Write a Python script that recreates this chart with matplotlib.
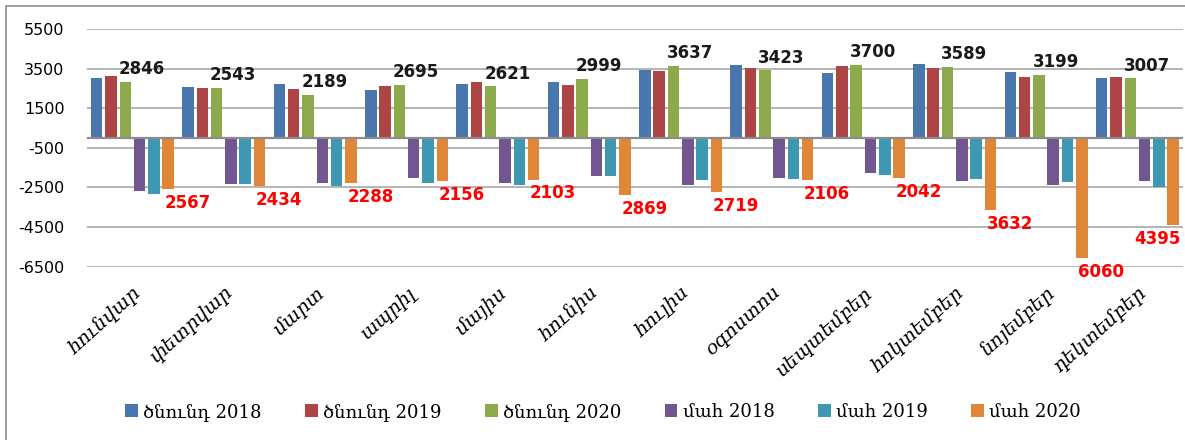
import numpy as np
import matplotlib.pyplot as plt
from matplotlib.patches import Rectangle

# Armenian month names and series names
months = ['հունվար', 'փետրվար', 'մարտ', 'ապրիլ', 'մայիս', 'հունիս',
          'հուլիս', 'օգոստոս', 'սեպտեմբեր', 'հոկտեմբեր', 'նոյեմբեր', 'դեկտեմբեր']
names = ['ծնունդ 2018', 'ծնունդ 2019', 'ծնունդ 2020', 'մահ 2018', 'մահ 2019', 'մահ 2020']

# births (2020 from the labels)
birth2018 = [3035, 2557, 2745, 2404, 2745, 2847, 3444, 3683, 3291, 3734, 3342, 3035]
birth2019 = [3137, 2506, 2455, 2609, 2813, 2694, 3393, 3512, 3632, 3512, 3086, 3086]
birth2020 = [2846, 2543, 2189, 2695, 2621, 2999, 3637, 3423, 3700, 3589, 3199, 3007]
# deaths, drawn below zero
death2018 = [2694, 2302, 2250, 2012, 2250, 1944, 2387, 2012, 1773, 2165, 2353, 2165]
death2019 = [2847, 2302, 2404, 2250, 2353, 1944, 2114, 2063, 1858, 2063, 2216, 2455]
death2020 = [2567, 2434, 2288, 2156, 2103, 2869, 2719, 2106, 2042, 3632, 6060, 4395]

yticks = [5500, 3500, 1500, -500, -2500, -4500, -6500]

colors = ['#4A76AE', '#AC4543', '#8CAA4C', '#715692', '#3E98B2', '#E08638']
series = [np.array(birth2018), np.array(birth2019), np.array(birth2020),
          -np.array(death2018), -np.array(death2019), -np.array(death2020)]

fig = plt.figure(figsize=(11.85, 4.4), dpi=100)
ax = fig.add_axes([0.0732, 0.3939, 0.9252, 0.5401])

x = np.arange(len(months))
pitch = 0.1565
bw = 0.126
for i, vals in enumerate(series):
    ax.bar(x + (i - 2.5) * pitch, vals, width=bw, color=colors[i], label=names[i],
           zorder=3)

# labels on 2020 series
for j in range(len(months)):
    ax.annotate(str(birth2020[j]), (x[j] - 0.5 * pitch, birth2020[j]),
                xytext=(12, 9), textcoords='offset points', ha='center', va='center',
                fontsize=12, fontweight='bold', color='#1a1a1a',
                family='DejaVu Sans', zorder=5)
    dx = 14 if j < len(months) - 1 else -11
    ax.annotate(str(death2020[j]), (x[j] + 2.5 * pitch, -death2020[j]),
                xytext=(dx, -10), textcoords='offset points', ha='center', va='center',
                fontsize=12, fontweight='bold', color='#FF0000',
                family='DejaVu Sans', zorder=5)

ax.set_xlim(-0.5, len(months) - 0.5)
ax.set_ylim(-6500, 5500)
ax.set_yticks(yticks)
ax.set_yticklabels([str(t) for t in yticks], fontsize=11.5, family='DejaVu Sans')
ax.grid(axis='y', color='#A8A8A8', lw=1.2, zorder=0)
ax.axhline(0, color='#8C8C8C', lw=1.6, zorder=4)
for s in ax.spines.values():
    s.set_visible(False)
ax.tick_params(axis='y', length=0, pad=16)
ax.tick_params(axis='x', length=0, pad=12)
ax.set_xticks(x)
ax.set_xticklabels(months, rotation=42, ha='right', va='top', rotation_mode='anchor',
                   fontsize=14, family='DejaVu Serif', fontstyle='italic')

ax.legend(loc='center', bbox_to_anchor=(0.509, 0.064),
          bbox_transform=fig.transFigure, ncol=6, frameon=False,
          prop={'family': 'DejaVu Serif', 'size': 13},
          handlelength=0.7, handleheight=0.7, handletextpad=0.3, columnspacing=2.4)

# chart border (left and top edges visible)
fig.patches.append(Rectangle((6 / 1185, -0.1), 1.2, 1.1 - 6 / 440, fill=False,
                             edgecolor='#8C8C8C', lw=1.2, transform=fig.transFigure))

fig.savefig('out.png', dpi=100)
